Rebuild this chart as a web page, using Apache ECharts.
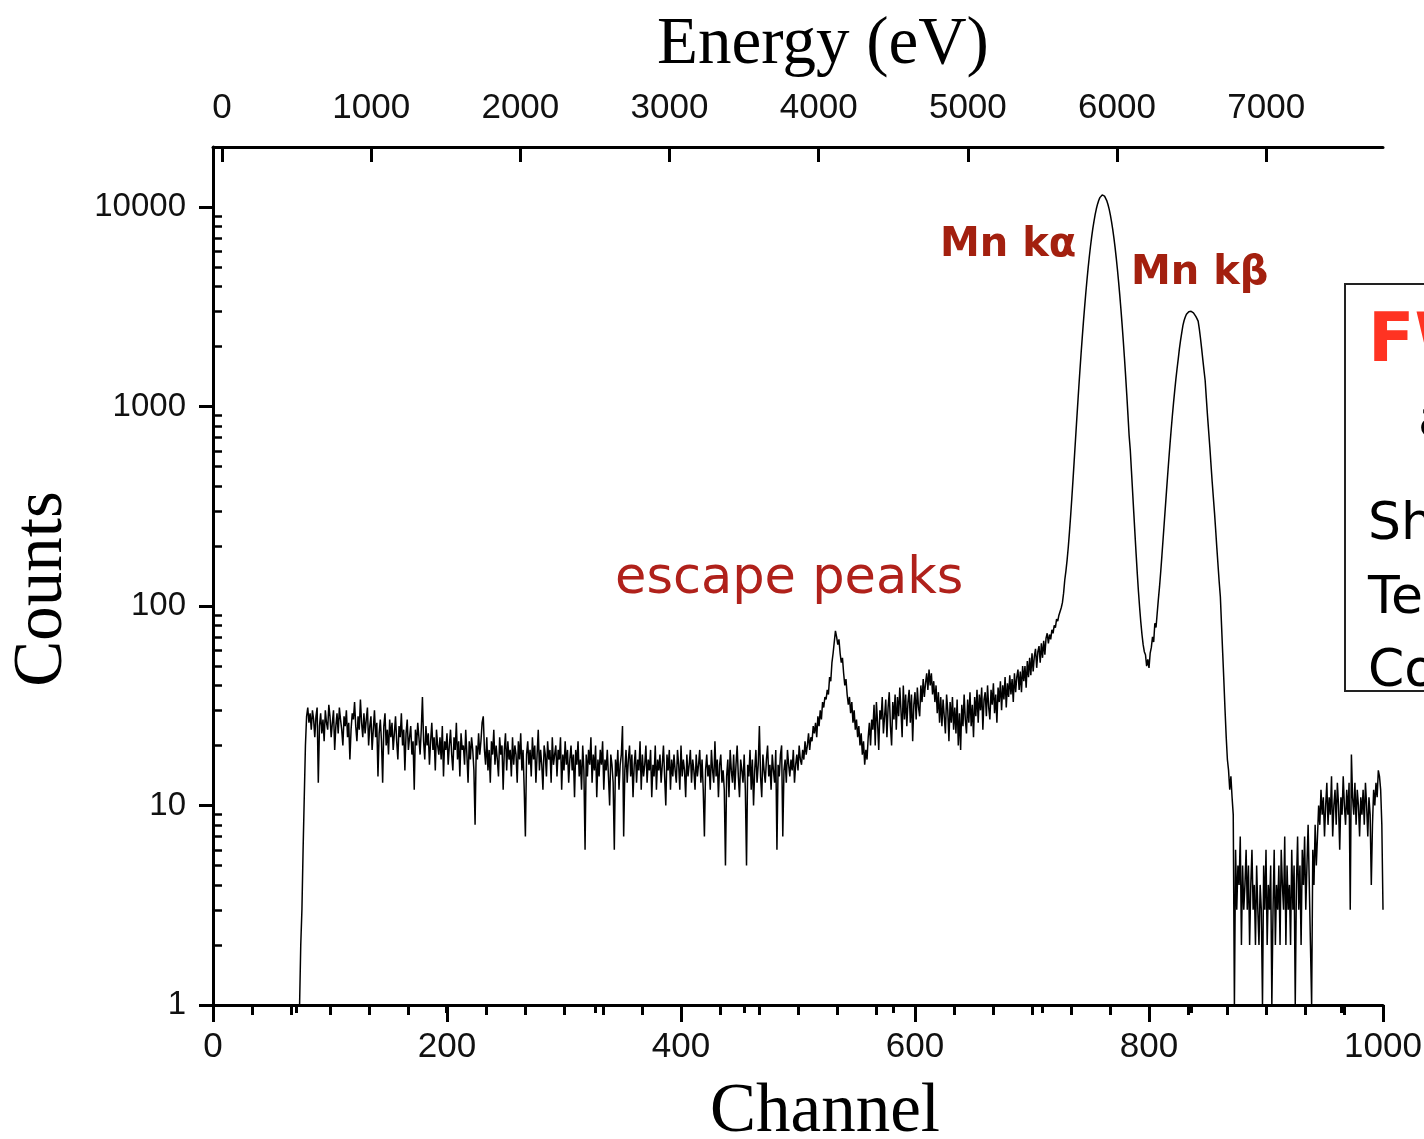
<!DOCTYPE html>
<html>
<head>
<meta charset="utf-8">
<script src="https://cdn.jsdelivr.net/npm/echarts@6/dist/echarts.min.js"></script>
<style>
html,body{margin:0;padding:0;background:#fff;}
#chart{width:1424px;height:1139px;}
</style>
</head>
<body>
<div id="chart"></div>
<script>
// ---- data: one value per channel, starting at channel 74 ----
var channelStart = 74;
var channelStep = 1;
var counts = [
  1,2,3,6,11,20,28,31,26,29,
  24,30,27,22,28,31,13,25,29,23,
  27,21,30,26,24,32,28,22,26,30,
  19,25,29,23,31,27,24,20,28,25,
  30,22,26,17,24,29,27,33,25,21,
  28,24,34,26,22,29,23,27,31,20,
  25,28,19,24,30,22,26,14,23,27,
  21,13,25,29,20,24,18,27,22,26,
  19,23,28,21,17,25,22,29,20,24,
  15,23,27,19,22,25,18,21,12,24,
  20,26,22,18,24,35,21,17,25,20,
  23,16,21,26,19,22,15,24,20,18,
  22,17,25,14,21,19,23,16,20,24,
  18,15,22,19,26,17,21,14,23,19,
  20,16,24,18,13,21,17,22,19,15,
  8,20,17,23,18,21,26,28,19,16,
  22,15,19,13,21,18,24,16,20,17,
  14,22,18,20,12,19,23,15,21,17,
  19,14,22,16,20,18,13,21,17,23,
  15,19,12,7,18,21,16,19,14,22,
  17,20,13,18,24,15,19,16,12,20,
  18,14,21,17,19,13,22,16,18,20,
  14,19,17,22,12,18,15,21,16,19,
  13,17,20,15,18,11,19,16,21,14,
  17,12,20,15,6,18,14,19,16,22,
  13,18,15,20,11,17,14,19,16,21,
  12,17,15,19,14,10,18,16,13,6,
  17,14,19,12,16,18,25,7,15,19,
  13,17,20,14,18,11,16,19,13,17,
  15,21,12,18,14,16,20,13,17,15,
  19,11,16,14,20,12,17,15,18,13,
  16,20,14,10,18,15,19,12,17,14,
  18,15,13,19,16,12,20,14,17,15,
  11,18,14,16,19,13,17,15,12,18,
  14,16,19,13,17,12,7,15,18,14,
  16,12,19,15,13,21,14,17,11,16,
  18,13,15,12,5,14,17,11,19,15,
  13,18,12,16,20,14,11,17,15,13,
  18,12,5,16,14,19,12,17,10,15,
  19,13,16,25,14,11,18,15,13,17,
  20,14,16,12,18,15,13,19,6,16,
  14,18,20,7,15,17,13,19,16,14,
  17,15,19,13,16,18,15,20,17,16,
  19,17,21,18,20,23,19,22,21,25,
  23,26,22,28,25,30,27,33,31,35,
  34,38,36,44,42,52,58,66,75,70,
  64,68,58,52,55,46,40,43,36,32,
  35,29,33,26,30,24,27,22,25,20,
  23,18,21,16,19,17,22,26,20,27,
  24,32,20,33,26,19,30,27,35,23,
  28,34,22,31,37,25,20,33,27,36,
  24,35,28,39,30,22,40,27,36,25,
  33,38,26,36,21,32,37,27,39,31,
  28,40,33,43,35,41,46,38,48,40,
  46,36,42,33,40,29,37,26,35,25,
  34,28,23,36,30,21,33,26,35,24,
  31,23,34,20,29,19,32,25,36,27,
  23,34,26,37,25,32,22,35,28,38,
  26,36,30,39,24,34,37,28,40,31,
  27,38,32,41,29,36,26,39,33,42,
  30,40,34,44,31,41,35,45,36,43,
  33,46,37,44,48,38,47,37,50,42,
  50,39,53,44,55,45,58,47,56,61,
  49,59,63,52,65,55,67,57,69,73,
  65,72,68,76,73,80,78,86,84,90,
  92,98,104,116,135,150,170,197,234,282,
  345,425,528,657,816,1011,1250,1530,1860,2240,
  2680,3170,3720,4320,4970,5650,6360,7080,7810,8510,
  9180,9800,10340,10790,11150,11380,11500,11480,11340,11100,
  10735,10275,9730,9110,8435,7730,7000,6275,5565,4877,
  4228,3627,3077,2582,2144,1760,1429,1148,911,716,
  605,476,373,293,230,182,145,118,98,83,
  72,64,59,57,50,54,49,58,62,70,
  66,82,78,92,108,125,148,178,215,260,
  314,380,458,549,654,772,904,1049,1206,1375,
  1551,1734,1950,2150,2350,2550,2700,2810,2900,2960,
  2990,3000,3000,2980,2950,2900,2830,2760,2680,2450,
  2200,1950,1720,1520,1350,1100,900,750,625,510,
  420,350,293,240,195,160,132,111,80,58,
  42,30,22,17,15,12,14,11,9,1,
  6,3,5,4,7,2,5,3,4,6,
  3,5,2,4,6,3,4,2,5,3,
  2,4,3,1,5,3,6,2,4,3,
  5,1,3,6,2,4,3,5,2,6,
  4,3,7,2,5,3,4,2,6,3,
  5,1,4,7,3,5,2,6,4,7,
  3,5,8,4,2,1,6,4,8,5,
  7,10,8,12,9,11,7,10,13,8,
  11,9,14,7,10,12,8,13,10,6,
  11,9,14,10,8,12,9,13,3,18,
  11,9,13,8,12,10,7,11,9,12,
  8,13,10,7,11,9,4,8,12,10,
  13,11,15,14,12,8,3
];

// tick labels
var channelTicks = [0, 200, 400, 600, 800, 1000];
var energyTicks = [0, 1000, 2000, 3000, 4000, 5000, 6000, 7000];
var energyHalfTicks = [500, 1500, 2500, 3500, 4500, 5500, 6500, 7500];
var countTicks = [1, 10, 100, 1000, 10000];
var countTickLabels = ['1', '10', '100', '1000', '10000'];
var countMinorTicks = [2,3,4,5,6,7,8,9,20,30,40,50,60,70,80,90,200,300,400,500,600,700,800,900,2000,3000,4000,5000,6000,7000,8000,9000];

// axis ranges
var channelMin = 0, channelMax = 1000;
var energyMin = -60.4, energyMax = 7783;
var countMin = 1, countMax = 20000;

// ---- build ----
var seriesData = counts.map(function (c, i) { return [channelStart + i * channelStep, c]; });
var logMax = Math.log10(countMax);

var sans = "'Liberation Sans', Arial, sans-serif";
var black = '#000';

var chart = echarts.init(document.getElementById('chart'), null, {renderer: 'canvas'});
chart.setOption({
  animation: false,
  backgroundColor: '#fff',
  grid: {left: 213, right: 41, top: 147, bottom: 134, containLabel: false, outerBoundsMode: 'none'},
  xAxis: [
    {
      type: 'value', position: 'bottom', min: channelMin, max: channelMax, interval: 200,
      axisLine: {show: true, lineStyle: {color: black, width: 3}},
      axisTick: {show: true, length: 17, lineStyle: {color: black, width: 3}},
      minorTick: {show: true, splitNumber: 6, length: 10, lineStyle: {color: black, width: 3}},
      splitLine: {show: false}, minorSplitLine: {show: false},
      axisLabel: {color: '#111', fontFamily: sans, fontSize: 35, margin: 25,
        formatter: function (v) { return channelTicks.indexOf(v) >= 0 ? String(v) : ''; }}
    },
    {
      type: 'value', position: 'top', offset: 0, min: energyMin, max: energyMax,
      axisLine: {show: true, onZero: false, lineStyle: {color: black, width: 3}},
      axisTick: {show: true, inside: true, length: 15, customValues: energyTicks, lineStyle: {color: black, width: 3}},
      axisLabel: {show: true, customValues: energyTicks, color: '#111', fontFamily: sans, fontSize: 35, margin: 21,
        formatter: function (v) { return String(v); }},
      splitLine: {show: false}
    },
    {
      type: 'value', position: 'top', offset: 0, min: energyMin, max: energyMax,
      axisLine: {show: false},
      axisTick: {show: true, inside: true, length: 8, customValues: energyHalfTicks, lineStyle: {color: black, width: 3}},
      axisLabel: {show: false},
      splitLine: {show: false}
    }
  ],
  yAxis: [
    {
      type: 'log', logBase: 10, min: countMin, max: countMax, position: 'left',
      axisLine: {show: true, onZero: false, lineStyle: {color: black, width: 3}},
      axisTick: {show: false}, axisLabel: {show: false}, splitLine: {show: false}
    },
    {
      type: 'value', min: 0, max: logMax, position: 'left', offset: 0,
      axisLine: {show: false},
      axisTick: {show: true, length: 14, customValues: countTicks.map(Math.log10), lineStyle: {color: black, width: 3}},
      axisLabel: {show: true, customValues: countTicks.map(Math.log10), color: '#111',
        fontFamily: sans, fontSize: 33, margin: 27,
        formatter: function (v) { return countTickLabels[Math.round(v)]; }},
      splitLine: {show: false}
    },
    {
      type: 'value', min: 0, max: logMax, position: 'left', offset: 0,
      axisLine: {show: false},
      axisTick: {show: true, length: 7, customValues: countMinorTicks.map(Math.log10), lineStyle: {color: black, width: 2.5}},
      axisLabel: {show: false}, splitLine: {show: false}
    }
  ],
  series: [{
    type: 'line', xAxisIndex: 0, yAxisIndex: 0, data: seriesData,
    showSymbol: false, symbol: 'none', smooth: false,
    lineStyle: {color: '#000', width: 1.5}
  }],
  graphic: [
    {type: 'text', x: 823, y: 45, style: {text: 'Energy (eV)', fill: '#000', font: "67px 'Liberation Serif', serif", textAlign: 'center', textVerticalAlign: 'middle'}},
    {type: 'text', x: 825, y: 1113, style: {text: 'Channel', fill: '#000', font: "69px 'Liberation Serif', serif", textAlign: 'center', textVerticalAlign: 'middle'}},
    {type: 'text', x: 43, y: 589, rotation: Math.PI / 2, style: {text: 'Counts', fill: '#000', font: "69px 'Liberation Serif', serif", textAlign: 'center', textVerticalAlign: 'middle'}},
    {type: 'text', x: 940, y: 246, style: {text: 'Mn kα', fill: '#A3200F', font: "bold 40px 'DejaVu Sans', sans-serif", textAlign: 'left', textVerticalAlign: 'middle'}},
    {type: 'text', x: 1131, y: 274, style: {text: 'Mn kβ', fill: '#A3200F', font: "bold 40px 'DejaVu Sans', sans-serif", textAlign: 'left', textVerticalAlign: 'middle'}},
    {type: 'text', x: 615, y: 580, style: {text: 'escape peaks', fill: '#B0211B', font: "51px 'DejaVu Sans', sans-serif", textAlign: 'left', textVerticalAlign: 'middle'}},
    {type: 'rect', shape: {x: 1345, y: 284, width: 120, height: 407}, style: {fill: '#fff', stroke: '#222', lineWidth: 2}},
    {type: 'text', x: 1368, y: 343, style: {text: 'FWHM', fill: '#FF3322', font: "bold 68px 'DejaVu Sans', sans-serif", textAlign: 'left', textVerticalAlign: 'middle'}},
    {type: 'text', x: 1418, y: 422, style: {text: 'at 5.9 keV', fill: '#000', font: "52px 'DejaVu Sans', sans-serif", textAlign: 'left', textVerticalAlign: 'middle'}},
    {type: 'text', x: 1368, y: 525, style: {text: 'Shaping time', fill: '#000', font: "52px 'DejaVu Sans', sans-serif", textAlign: 'left', textVerticalAlign: 'middle'}},
    {type: 'text', x: 1368, y: 599, style: {text: 'Temperature', fill: '#000', font: "52px 'DejaVu Sans', sans-serif", textAlign: 'left', textVerticalAlign: 'middle'}},
    {type: 'text', x: 1368, y: 672, style: {text: 'Count rate', fill: '#000', font: "52px 'DejaVu Sans', sans-serif", textAlign: 'left', textVerticalAlign: 'middle'}}
  ]
});
</script>
</body>
</html>
